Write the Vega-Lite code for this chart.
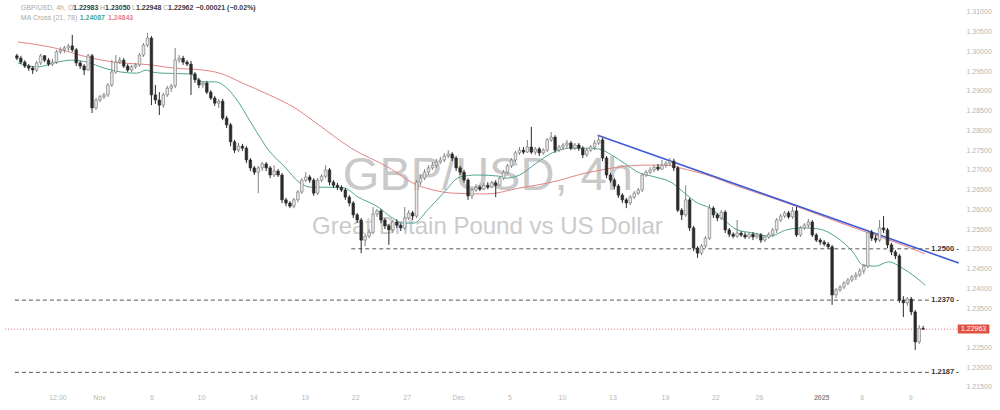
{
  "$schema": "https://vega.github.io/schema/vega-lite/v6.json",
  "width": 940,
  "height": 390,
  "padding": {"left": 0, "top": 0, "right": 0, "bottom": 0},
  "background": "#ffffff",
  "config": {
    "view": {"stroke": null},
    "axis": {"grid": false, "domain": false, "ticks": false, "labelColor": "#b3b3b3", "labelFontSize": 7, "labelFont": "Liberation Sans", "labelOverlap": false},
    "axisY": {"labelOverlap": false, "labelPadding": 26, "labelAlign": "left", "labelBaseline": "middle", "labelFlush": false, "labelColor": "#b5b5b5", "tickCount": 40}
  },
  "datasets": {
    "candles": [
      {"i":0,"o":1.2989,"h":1.2994,"l":1.2978,"c":1.2983},
      {"i":1,"o":1.2983,"h":1.2989,"l":1.2968,"c":1.2973},
      {"i":2,"o":1.2973,"h":1.2978,"l":1.2958,"c":1.2963},
      {"i":3,"o":1.2963,"h":1.2968,"l":1.2951,"c":1.2958},
      {"i":4,"o":1.2958,"h":1.2963,"l":1.2943,"c":1.2953},
      {"i":5,"o":1.2953,"h":1.2976,"l":1.2948,"c":1.2971},
      {"i":6,"o":1.2971,"h":1.2994,"l":1.2966,"c":1.2989},
      {"i":7,"o":1.2989,"h":1.2991,"l":1.2973,"c":1.2978},
      {"i":8,"o":1.2978,"h":1.2983,"l":1.2963,"c":1.2968},
      {"i":9,"o":1.2968,"h":1.2981,"l":1.2963,"c":1.2973},
      {"i":10,"o":1.2973,"h":1.3004,"l":1.2968,"c":1.2999},
      {"i":11,"o":1.2999,"h":1.3011,"l":1.2994,"c":1.3004},
      {"i":12,"o":1.3004,"h":1.3014,"l":1.2996,"c":1.3009},
      {"i":13,"o":1.3009,"h":1.3019,"l":1.3001,"c":1.3014},
      {"i":14,"o":1.3014,"h":1.3042,"l":1.2999,"c":1.3004},
      {"i":15,"o":1.3004,"h":1.3009,"l":1.2963,"c":1.2971},
      {"i":16,"o":1.2971,"h":1.2976,"l":1.2956,"c":1.2963},
      {"i":17,"o":1.2963,"h":1.2968,"l":1.2940,"c":1.2953},
      {"i":18,"o":1.2953,"h":1.2994,"l":1.2951,"c":1.2989},
      {"i":19,"o":1.2989,"h":1.2994,"l":1.2844,"c":1.2857},
      {"i":20,"o":1.2857,"h":1.2882,"l":1.2852,"c":1.2877},
      {"i":21,"o":1.2877,"h":1.2890,"l":1.2872,"c":1.2885},
      {"i":22,"o":1.2885,"h":1.2895,"l":1.2880,"c":1.2890},
      {"i":23,"o":1.2890,"h":1.2920,"l":1.2885,"c":1.2915},
      {"i":24,"o":1.2915,"h":1.2978,"l":1.2910,"c":1.2948},
      {"i":25,"o":1.2948,"h":1.2991,"l":1.2943,"c":1.2973},
      {"i":26,"o":1.2973,"h":1.2986,"l":1.2968,"c":1.2978},
      {"i":27,"o":1.2978,"h":1.2983,"l":1.2958,"c":1.2963},
      {"i":28,"o":1.2963,"h":1.2968,"l":1.2948,"c":1.2953},
      {"i":29,"o":1.2953,"h":1.2966,"l":1.2948,"c":1.2961},
      {"i":30,"o":1.2961,"h":1.2971,"l":1.2956,"c":1.2966},
      {"i":31,"o":1.2966,"h":1.2996,"l":1.2961,"c":1.2991},
      {"i":32,"o":1.2991,"h":1.3021,"l":1.2986,"c":1.3016},
      {"i":33,"o":1.3016,"h":1.3047,"l":1.3011,"c":1.3034},
      {"i":34,"o":1.3034,"h":1.3039,"l":1.2864,"c":1.2890},
      {"i":35,"o":1.2890,"h":1.2915,"l":1.2867,"c":1.2877},
      {"i":36,"o":1.2877,"h":1.2897,"l":1.2839,"c":1.2864},
      {"i":37,"o":1.2864,"h":1.2895,"l":1.2857,"c":1.2890},
      {"i":38,"o":1.2890,"h":1.2913,"l":1.2885,"c":1.2907},
      {"i":39,"o":1.2907,"h":1.2918,"l":1.2897,"c":1.2913},
      {"i":40,"o":1.2913,"h":1.3009,"l":1.2907,"c":1.2978},
      {"i":41,"o":1.2978,"h":1.2991,"l":1.2971,"c":1.2983},
      {"i":42,"o":1.2983,"h":1.2989,"l":1.2966,"c":1.2973},
      {"i":43,"o":1.2973,"h":1.2978,"l":1.2963,"c":1.2968},
      {"i":44,"o":1.2968,"h":1.2976,"l":1.2890,"c":1.2943},
      {"i":45,"o":1.2943,"h":1.2948,"l":1.2920,"c":1.2928},
      {"i":46,"o":1.2928,"h":1.2933,"l":1.2907,"c":1.2915},
      {"i":47,"o":1.2915,"h":1.2925,"l":1.2907,"c":1.2920},
      {"i":48,"o":1.2920,"h":1.2925,"l":1.2892,"c":1.2897},
      {"i":49,"o":1.2897,"h":1.2902,"l":1.2877,"c":1.2882},
      {"i":50,"o":1.2882,"h":1.2887,"l":1.2862,"c":1.2869},
      {"i":51,"o":1.2869,"h":1.2880,"l":1.2857,"c":1.2874},
      {"i":52,"o":1.2874,"h":1.2880,"l":1.2826,"c":1.2831},
      {"i":53,"o":1.2831,"h":1.2837,"l":1.2806,"c":1.2814},
      {"i":54,"o":1.2814,"h":1.2819,"l":1.2760,"c":1.2771},
      {"i":55,"o":1.2771,"h":1.2776,"l":1.2743,"c":1.2750},
      {"i":56,"o":1.2750,"h":1.2768,"l":1.2745,"c":1.2760},
      {"i":57,"o":1.2760,"h":1.2766,"l":1.2748,"c":1.2755},
      {"i":58,"o":1.2755,"h":1.2760,"l":1.2717,"c":1.2725},
      {"i":59,"o":1.2725,"h":1.2730,"l":1.2697,"c":1.2705},
      {"i":60,"o":1.2705,"h":1.2710,"l":1.2687,"c":1.2694},
      {"i":61,"o":1.2694,"h":1.2710,"l":1.2641,"c":1.2705},
      {"i":62,"o":1.2705,"h":1.2720,"l":1.2697,"c":1.2715},
      {"i":63,"o":1.2715,"h":1.2720,"l":1.2697,"c":1.2705},
      {"i":64,"o":1.2705,"h":1.2710,"l":1.2679,"c":1.2687},
      {"i":65,"o":1.2687,"h":1.2712,"l":1.2682,"c":1.2697},
      {"i":66,"o":1.2697,"h":1.2702,"l":1.2682,"c":1.2687},
      {"i":67,"o":1.2687,"h":1.2692,"l":1.2616,"c":1.2624},
      {"i":68,"o":1.2624,"h":1.2629,"l":1.2608,"c":1.2616},
      {"i":69,"o":1.2616,"h":1.2621,"l":1.2603,"c":1.2608},
      {"i":70,"o":1.2608,"h":1.2629,"l":1.2603,"c":1.2624},
      {"i":71,"o":1.2624,"h":1.2649,"l":1.2618,"c":1.2644},
      {"i":72,"o":1.2644,"h":1.2679,"l":1.2639,"c":1.2674},
      {"i":73,"o":1.2674,"h":1.2694,"l":1.2669,"c":1.2682},
      {"i":74,"o":1.2682,"h":1.2687,"l":1.2667,"c":1.2674},
      {"i":75,"o":1.2674,"h":1.2679,"l":1.2634,"c":1.2641},
      {"i":76,"o":1.2641,"h":1.2679,"l":1.2636,"c":1.2674},
      {"i":77,"o":1.2674,"h":1.2689,"l":1.2669,"c":1.2684},
      {"i":78,"o":1.2684,"h":1.2712,"l":1.2679,"c":1.2700},
      {"i":79,"o":1.2700,"h":1.2705,"l":1.2661,"c":1.2669},
      {"i":80,"o":1.2669,"h":1.2674,"l":1.2654,"c":1.2661},
      {"i":81,"o":1.2661,"h":1.2667,"l":1.2649,"c":1.2656},
      {"i":82,"o":1.2656,"h":1.2661,"l":1.2644,"c":1.2649},
      {"i":83,"o":1.2649,"h":1.2654,"l":1.2624,"c":1.2631},
      {"i":84,"o":1.2631,"h":1.2636,"l":1.2608,"c":1.2616},
      {"i":85,"o":1.2616,"h":1.2621,"l":1.2578,"c":1.2586},
      {"i":86,"o":1.2586,"h":1.2591,"l":1.2565,"c":1.2573},
      {"i":87,"o":1.2573,"h":1.2578,"l":1.2489,"c":1.2522},
      {"i":88,"o":1.2522,"h":1.2537,"l":1.2507,"c":1.2532},
      {"i":89,"o":1.2532,"h":1.2550,"l":1.2527,"c":1.2542},
      {"i":90,"o":1.2542,"h":1.2606,"l":1.2537,"c":1.2588},
      {"i":91,"o":1.2588,"h":1.2601,"l":1.2581,"c":1.2596},
      {"i":92,"o":1.2596,"h":1.2601,"l":1.2565,"c":1.2573},
      {"i":93,"o":1.2573,"h":1.2578,"l":1.2550,"c":1.2558},
      {"i":94,"o":1.2558,"h":1.2563,"l":1.2510,"c":1.2548},
      {"i":95,"o":1.2548,"h":1.2573,"l":1.2540,"c":1.2568},
      {"i":96,"o":1.2568,"h":1.2575,"l":1.2553,"c":1.2560},
      {"i":97,"o":1.2560,"h":1.2565,"l":1.2545,"c":1.2553},
      {"i":98,"o":1.2553,"h":1.2606,"l":1.2548,"c":1.2578},
      {"i":99,"o":1.2578,"h":1.2598,"l":1.2573,"c":1.2591},
      {"i":100,"o":1.2591,"h":1.2596,"l":1.2573,"c":1.2583},
      {"i":101,"o":1.2583,"h":1.2674,"l":1.2578,"c":1.2669},
      {"i":102,"o":1.2669,"h":1.2687,"l":1.2661,"c":1.2679},
      {"i":103,"o":1.2679,"h":1.2702,"l":1.2674,"c":1.2694},
      {"i":104,"o":1.2694,"h":1.2712,"l":1.2687,"c":1.2705},
      {"i":105,"o":1.2705,"h":1.2720,"l":1.2700,"c":1.2712},
      {"i":106,"o":1.2712,"h":1.2728,"l":1.2705,"c":1.2720},
      {"i":107,"o":1.2720,"h":1.2733,"l":1.2715,"c":1.2725},
      {"i":108,"o":1.2725,"h":1.2743,"l":1.2720,"c":1.2735},
      {"i":109,"o":1.2735,"h":1.2750,"l":1.2730,"c":1.2740},
      {"i":110,"o":1.2740,"h":1.2745,"l":1.2722,"c":1.2730},
      {"i":111,"o":1.2730,"h":1.2735,"l":1.2697,"c":1.2705},
      {"i":112,"o":1.2705,"h":1.2710,"l":1.2687,"c":1.2694},
      {"i":113,"o":1.2694,"h":1.2700,"l":1.2667,"c":1.2674},
      {"i":114,"o":1.2674,"h":1.2679,"l":1.2624,"c":1.2634},
      {"i":115,"o":1.2634,"h":1.2654,"l":1.2626,"c":1.2649},
      {"i":116,"o":1.2649,"h":1.2664,"l":1.2644,"c":1.2656},
      {"i":117,"o":1.2656,"h":1.2661,"l":1.2646,"c":1.2651},
      {"i":118,"o":1.2651,"h":1.2667,"l":1.2649,"c":1.2661},
      {"i":119,"o":1.2661,"h":1.2669,"l":1.2651,"c":1.2656},
      {"i":120,"o":1.2656,"h":1.2672,"l":1.2654,"c":1.2667},
      {"i":121,"o":1.2667,"h":1.2674,"l":1.2631,"c":1.2661},
      {"i":122,"o":1.2661,"h":1.2684,"l":1.2659,"c":1.2679},
      {"i":123,"o":1.2679,"h":1.2700,"l":1.2674,"c":1.2694},
      {"i":124,"o":1.2694,"h":1.2715,"l":1.2689,"c":1.2710},
      {"i":125,"o":1.2710,"h":1.2730,"l":1.2705,"c":1.2725},
      {"i":126,"o":1.2725,"h":1.2748,"l":1.2720,"c":1.2743},
      {"i":127,"o":1.2743,"h":1.2758,"l":1.2738,"c":1.2750},
      {"i":128,"o":1.2750,"h":1.2758,"l":1.2740,"c":1.2745},
      {"i":129,"o":1.2745,"h":1.2776,"l":1.2743,"c":1.2758},
      {"i":130,"o":1.2758,"h":1.2809,"l":1.2740,"c":1.2745},
      {"i":131,"o":1.2745,"h":1.2758,"l":1.2738,"c":1.2753},
      {"i":132,"o":1.2753,"h":1.2758,"l":1.2735,"c":1.2743},
      {"i":133,"o":1.2743,"h":1.2755,"l":1.2738,"c":1.2750},
      {"i":134,"o":1.2750,"h":1.2781,"l":1.2745,"c":1.2776},
      {"i":135,"o":1.2776,"h":1.2796,"l":1.2771,"c":1.2783},
      {"i":136,"o":1.2783,"h":1.2788,"l":1.2743,"c":1.2750},
      {"i":137,"o":1.2750,"h":1.2763,"l":1.2745,"c":1.2758},
      {"i":138,"o":1.2758,"h":1.2768,"l":1.2750,"c":1.2763},
      {"i":139,"o":1.2763,"h":1.2776,"l":1.2755,"c":1.2768},
      {"i":140,"o":1.2768,"h":1.2773,"l":1.2750,"c":1.2755},
      {"i":141,"o":1.2755,"h":1.2768,"l":1.2750,"c":1.2763},
      {"i":142,"o":1.2763,"h":1.2768,"l":1.2748,"c":1.2755},
      {"i":143,"o":1.2755,"h":1.2760,"l":1.2730,"c":1.2738},
      {"i":144,"o":1.2738,"h":1.2755,"l":1.2733,"c":1.2750},
      {"i":145,"o":1.2750,"h":1.2763,"l":1.2745,"c":1.2758},
      {"i":146,"o":1.2758,"h":1.2776,"l":1.2750,"c":1.2768},
      {"i":147,"o":1.2768,"h":1.2788,"l":1.2763,"c":1.2776},
      {"i":148,"o":1.2776,"h":1.2781,"l":1.2722,"c":1.2730},
      {"i":149,"o":1.2730,"h":1.2735,"l":1.2679,"c":1.2687},
      {"i":150,"o":1.2687,"h":1.2692,"l":1.2667,"c":1.2674},
      {"i":151,"o":1.2674,"h":1.2679,"l":1.2651,"c":1.2659},
      {"i":152,"o":1.2659,"h":1.2664,"l":1.2629,"c":1.2636},
      {"i":153,"o":1.2636,"h":1.2641,"l":1.2616,"c":1.2624},
      {"i":154,"o":1.2624,"h":1.2629,"l":1.2603,"c":1.2616},
      {"i":155,"o":1.2616,"h":1.2636,"l":1.2611,"c":1.2631},
      {"i":156,"o":1.2631,"h":1.2646,"l":1.2626,"c":1.2641},
      {"i":157,"o":1.2641,"h":1.2654,"l":1.2636,"c":1.2649},
      {"i":158,"o":1.2649,"h":1.2692,"l":1.2644,"c":1.2687},
      {"i":159,"o":1.2687,"h":1.2700,"l":1.2682,"c":1.2694},
      {"i":160,"o":1.2694,"h":1.2707,"l":1.2689,"c":1.2700},
      {"i":161,"o":1.2700,"h":1.2712,"l":1.2694,"c":1.2707},
      {"i":162,"o":1.2707,"h":1.2715,"l":1.2697,"c":1.2702},
      {"i":163,"o":1.2702,"h":1.2725,"l":1.2700,"c":1.2712},
      {"i":164,"o":1.2712,"h":1.2722,"l":1.2705,"c":1.2717},
      {"i":165,"o":1.2717,"h":1.2730,"l":1.2710,"c":1.2722},
      {"i":166,"o":1.2722,"h":1.2728,"l":1.2697,"c":1.2705},
      {"i":167,"o":1.2705,"h":1.2710,"l":1.2593,"c":1.2598},
      {"i":168,"o":1.2598,"h":1.2603,"l":1.2573,"c":1.2586},
      {"i":169,"o":1.2586,"h":1.2661,"l":1.2581,"c":1.2624},
      {"i":170,"o":1.2624,"h":1.2629,"l":1.2545,"c":1.2553},
      {"i":171,"o":1.2553,"h":1.2558,"l":1.2494,"c":1.2502},
      {"i":172,"o":1.2502,"h":1.2507,"l":1.2477,"c":1.2489},
      {"i":173,"o":1.2489,"h":1.2512,"l":1.2484,"c":1.2507},
      {"i":174,"o":1.2507,"h":1.2532,"l":1.2502,"c":1.2527},
      {"i":175,"o":1.2527,"h":1.2613,"l":1.2522,"c":1.2603},
      {"i":176,"o":1.2603,"h":1.2608,"l":1.2578,"c":1.2586},
      {"i":177,"o":1.2586,"h":1.2591,"l":1.2570,"c":1.2578},
      {"i":178,"o":1.2578,"h":1.2598,"l":1.2573,"c":1.2593},
      {"i":179,"o":1.2593,"h":1.2598,"l":1.2540,"c":1.2548},
      {"i":180,"o":1.2548,"h":1.2553,"l":1.2530,"c":1.2537},
      {"i":181,"o":1.2537,"h":1.2542,"l":1.2527,"c":1.2532},
      {"i":182,"o":1.2532,"h":1.2573,"l":1.2527,"c":1.2540},
      {"i":183,"o":1.2540,"h":1.2545,"l":1.2530,"c":1.2535},
      {"i":184,"o":1.2535,"h":1.2542,"l":1.2525,"c":1.2530},
      {"i":185,"o":1.2530,"h":1.2542,"l":1.2525,"c":1.2537},
      {"i":186,"o":1.2537,"h":1.2542,"l":1.2522,"c":1.2530},
      {"i":187,"o":1.2530,"h":1.2540,"l":1.2525,"c":1.2535},
      {"i":188,"o":1.2535,"h":1.2540,"l":1.2515,"c":1.2522},
      {"i":189,"o":1.2522,"h":1.2535,"l":1.2517,"c":1.2530},
      {"i":190,"o":1.2530,"h":1.2542,"l":1.2525,"c":1.2537},
      {"i":191,"o":1.2537,"h":1.2553,"l":1.2530,"c":1.2548},
      {"i":192,"o":1.2548,"h":1.2578,"l":1.2540,"c":1.2573},
      {"i":193,"o":1.2573,"h":1.2588,"l":1.2568,"c":1.2583},
      {"i":194,"o":1.2583,"h":1.2596,"l":1.2578,"c":1.2591},
      {"i":195,"o":1.2591,"h":1.2596,"l":1.2576,"c":1.2581},
      {"i":196,"o":1.2581,"h":1.2606,"l":1.2576,"c":1.2596},
      {"i":197,"o":1.2596,"h":1.2606,"l":1.2530,"c":1.2535},
      {"i":198,"o":1.2535,"h":1.2558,"l":1.2530,"c":1.2553},
      {"i":199,"o":1.2553,"h":1.2565,"l":1.2548,"c":1.2560},
      {"i":200,"o":1.2560,"h":1.2576,"l":1.2553,"c":1.2568},
      {"i":201,"o":1.2568,"h":1.2573,"l":1.2530,"c":1.2535},
      {"i":202,"o":1.2535,"h":1.2540,"l":1.2517,"c":1.2522},
      {"i":203,"o":1.2522,"h":1.2527,"l":1.2510,"c":1.2517},
      {"i":204,"o":1.2517,"h":1.2522,"l":1.2507,"c":1.2512},
      {"i":205,"o":1.2512,"h":1.2517,"l":1.2500,"c":1.2505},
      {"i":206,"o":1.2505,"h":1.2510,"l":1.2358,"c":1.2383},
      {"i":207,"o":1.2383,"h":1.2401,"l":1.2375,"c":1.2396},
      {"i":208,"o":1.2396,"h":1.2408,"l":1.2391,"c":1.2403},
      {"i":209,"o":1.2403,"h":1.2418,"l":1.2398,"c":1.2413},
      {"i":210,"o":1.2413,"h":1.2426,"l":1.2408,"c":1.2421},
      {"i":211,"o":1.2421,"h":1.2434,"l":1.2416,"c":1.2429},
      {"i":212,"o":1.2429,"h":1.2441,"l":1.2421,"c":1.2434},
      {"i":213,"o":1.2434,"h":1.2451,"l":1.2429,"c":1.2444},
      {"i":214,"o":1.2444,"h":1.2462,"l":1.2436,"c":1.2456},
      {"i":215,"o":1.2456,"h":1.2548,"l":1.2451,"c":1.2542},
      {"i":216,"o":1.2542,"h":1.2548,"l":1.2520,"c":1.2527},
      {"i":217,"o":1.2527,"h":1.2535,"l":1.2515,"c":1.2522},
      {"i":218,"o":1.2522,"h":1.2573,"l":1.2517,"c":1.2553},
      {"i":219,"o":1.2553,"h":1.2583,"l":1.2540,"c":1.2548},
      {"i":220,"o":1.2548,"h":1.2553,"l":1.2502,"c":1.2510},
      {"i":221,"o":1.2510,"h":1.2515,"l":1.2484,"c":1.2492},
      {"i":222,"o":1.2492,"h":1.2497,"l":1.2474,"c":1.2482},
      {"i":223,"o":1.2482,"h":1.2487,"l":1.2363,"c":1.2370},
      {"i":224,"o":1.2370,"h":1.2380,"l":1.2327,"c":1.2363},
      {"i":225,"o":1.2363,"h":1.2378,"l":1.2355,"c":1.2373},
      {"i":226,"o":1.2373,"h":1.2378,"l":1.2332,"c":1.2340},
      {"i":227,"o":1.2340,"h":1.2345,"l":1.2244,"c":1.2264},
      {"i":228,"o":1.2264,"h":1.2307,"l":1.2259,"c":1.2299},
      {"i":229,"o":1.22983,"h":1.2305,"l":1.22948,"c":1.22962}
    ],
    "ma": [
      {"i":0.25,"v":1.3024,"s":"ma78"},{"i":9.5,"v":1.3009,"s":"ma78"},{"i":17.75,"v":1.2986,"s":"ma78"},{"i":24.5,"v":1.2973,"s":"ma78"},
      {"i":33.75,"v":1.2966,"s":"ma78"},{"i":39.5,"v":1.2958,"s":"ma78"},{"i":47,"v":1.2953,"s":"ma78"},{"i":51.25,"v":1.2945,"s":"ma78"},
      {"i":57,"v":1.2920,"s":"ma78"},{"i":63.75,"v":1.2890,"s":"ma78"},{"i":70.25,"v":1.2857,"s":"ma78"},{"i":76.25,"v":1.2814,"s":"ma78"},
      {"i":84.5,"v":1.2755,"s":"ma78"},{"i":93.75,"v":1.2707,"s":"ma78"},{"i":101.25,"v":1.2661,"s":"ma78"},{"i":105.25,"v":1.2649,"s":"ma78"},
      {"i":110.25,"v":1.2641,"s":"ma78"},{"i":118.75,"v":1.2639,"s":"ma78"},{"i":127,"v":1.2654,"s":"ma78"},{"i":135.25,"v":1.2669,"s":"ma78"},
      {"i":143.75,"v":1.2692,"s":"ma78"},{"i":147.75,"v":1.2700,"s":"ma78"},{"i":152,"v":1.2707,"s":"ma78"},{"i":158.25,"v":1.2712,"s":"ma78"},
      {"i":163.75,"v":1.2712,"s":"ma78"},{"i":169.5,"v":1.2700,"s":"ma78"},{"i":173.75,"v":1.2689,"s":"ma78"},{"i":182,"v":1.2659,"s":"ma78"},
      {"i":190.25,"v":1.2631,"s":"ma78"},{"i":198.75,"v":1.2601,"s":"ma78"},{"i":207,"v":1.2570,"s":"ma78"},{"i":215.25,"v":1.2540,"s":"ma78"},
      {"i":223.75,"v":1.2510,"s":"ma78"},{"i":229.5,"v":1.2487,"s":"ma78"},
      {"i":0.25,"v":1.2971,"s":"ma21"},{"i":5.25,"v":1.2961,"s":"ma21"},{"i":9.5,"v":1.2971,"s":"ma21"},{"i":13.75,"v":1.2978,"s":"ma21"},
      {"i":17.75,"v":1.2973,"s":"ma21"},{"i":22,"v":1.2958,"s":"ma21"},{"i":26.25,"v":1.2948,"s":"ma21"},{"i":30.25,"v":1.2945,"s":"ma21"},
      {"i":32.75,"v":1.2953,"s":"ma21"},{"i":34,"v":1.2948,"s":"ma21"},{"i":37,"v":1.2945,"s":"ma21"},{"i":43.75,"v":1.2943,"s":"ma21"},
      {"i":47,"v":1.2923,"s":"ma21"},{"i":50.25,"v":1.2923,"s":"ma21"},{"i":52.75,"v":1.2910,"s":"ma21"},{"i":55.25,"v":1.2882,"s":"ma21"},
      {"i":59.5,"v":1.2814,"s":"ma21"},{"i":63.75,"v":1.2748,"s":"ma21"},{"i":67.75,"v":1.2707,"s":"ma21"},{"i":71.25,"v":1.2669,"s":"ma21"},
      {"i":74.5,"v":1.2656,"s":"ma21"},{"i":80.25,"v":1.2656,"s":"ma21"},{"i":82.75,"v":1.2654,"s":"ma21"},{"i":86.25,"v":1.2631,"s":"ma21"},
      {"i":91.25,"v":1.2606,"s":"ma21"},{"i":94.5,"v":1.2581,"s":"ma21"},{"i":97.75,"v":1.2565,"s":"ma21"},{"i":100.25,"v":1.2565,"s":"ma21"},
      {"i":103.75,"v":1.2598,"s":"ma21"},{"i":107.75,"v":1.2641,"s":"ma21"},{"i":112,"v":1.2682,"s":"ma21"},{"i":116.25,"v":1.2687,"s":"ma21"},
      {"i":122,"v":1.2684,"s":"ma21"},{"i":123.75,"v":1.2679,"s":"ma21"},{"i":127,"v":1.2687,"s":"ma21"},{"i":131.25,"v":1.2717,"s":"ma21"},
      {"i":135.25,"v":1.2743,"s":"ma21"},{"i":139.5,"v":1.2755,"s":"ma21"},{"i":143.75,"v":1.2755,"s":"ma21"},{"i":147,"v":1.2753,"s":"ma21"},
      {"i":150.25,"v":1.2738,"s":"ma21"},{"i":153.75,"v":1.2715,"s":"ma21"},{"i":157,"v":1.2694,"s":"ma21"},{"i":161.25,"v":1.2682,"s":"ma21"},
      {"i":165.25,"v":1.2669,"s":"ma21"},{"i":168.75,"v":1.2641,"s":"ma21"},{"i":172,"v":1.2616,"s":"ma21"},{"i":175.25,"v":1.2603,"s":"ma21"},
      {"i":178.75,"v":1.2573,"s":"ma21"},{"i":182,"v":1.2548,"s":"ma21"},{"i":186.25,"v":1.2540,"s":"ma21"},{"i":190.25,"v":1.2532,"s":"ma21"},
      {"i":194.5,"v":1.2548,"s":"ma21"},{"i":198.75,"v":1.2553,"s":"ma21"},{"i":202.75,"v":1.2550,"s":"ma21"},{"i":207,"v":1.2530,"s":"ma21"},
      {"i":211.25,"v":1.2492,"s":"ma21"},{"i":213.75,"v":1.2459,"s":"ma21"},{"i":217,"v":1.2456,"s":"ma21"},{"i":220.25,"v":1.2467,"s":"ma21"},
      {"i":223.75,"v":1.2451,"s":"ma21"},{"i":227,"v":1.2429,"s":"ma21"},{"i":229.5,"v":1.2408,"s":"ma21"}
    ]
  },
  "encoding": {
    "x": {
      "field": "i", "type": "quantitative", "title": null,
      "scale": {"domain": [-3, 232], "nice": false, "zero": false},
      "axis": {
        "values": [10.25, 20.75, 34, 46.5, 59.75, 72.75, 85.5, 98.5, 111.5, 124.5, 137.75, 150.5, 163.75, 176.5, 187.5, 203.25, 213.5, 225.75],
        "labelExpr": "['12:00','Nov','6','10','14','19','22','27','Dec','5','10','13','19','22','26','2025','6','9'][indexof([10.25,20.75,34,46.5,59.75,72.75,85.5,98.5,111.5,124.5,137.75,150.5,163.75,176.5,187.5,203.25,213.5,225.75], datum.value)]",
        "labelPadding": 3, "labelFlush": false, "labelOverlap": false, "tickCount": 40,
        "labelColor": {"condition": {"test": "datum.value == 203.25", "value": "#8a8a8a"}, "value": "#b8b8b8"},
        "labelFontWeight": {"condition": {"test": "datum.value == 203.25", "value": "bold"}, "value": "normal"}
      }
    }
  },
  "layer": [
    {
      "data": {"values": [
        {"i": 119, "p": 1.2649, "t": "GBP/USD, 4h"}
      ]},
      "mark": {"type": "text", "font": "Liberation Sans", "fontSize": 47, "color": "#c9c9c9", "align": "center", "baseline": "alphabetic"},
      "encoding": {
        "y": {"field": "p", "type": "quantitative", "title": null, "scale": {"domain": [1.21423, 1.31304], "nice": false, "zero": false}},
        "text": {"field": "t"}
      }
    },
    {
      "data": {"values": [
        {"i": 118.9, "p": 1.2537, "t": "Great Britain Pound vs US Dollar"}
      ]},
      "mark": {"type": "text", "font": "Liberation Sans", "fontSize": 24, "color": "#cbcbcb", "align": "center", "baseline": "alphabetic"},
      "encoding": {
        "y": {"field": "p", "type": "quantitative", "title": null, "scale": {"domain": [1.21423, 1.31304], "nice": false, "zero": false}},
        "text": {"field": "t"}
      }
    },
    {
      "data": {"values": [{"i": -3, "i2": 237.75, "p": 1.22963}]},
      "mark": {"type": "rule", "color": "#e57373", "strokeWidth": 1, "strokeDash": [1, 2]},
      "encoding": {
        "x2": {"field": "i2"},
        "y": {"field": "p", "type": "quantitative", "title": null, "scale": {"domain": [1.21423, 1.31304], "nice": false, "zero": false}}
      }
    },
    {
      "data": {"values": [
        {"i": 84.5, "i2": 230.5, "p": 1.25},
        {"i": -0.5, "i2": 230.5, "p": 1.237},
        {"i": -0.5, "i2": 230.5, "p": 1.2187}
      ]},
      "mark": {"type": "rule", "color": "#555555", "strokeWidth": 1, "strokeDash": [4, 3]},
      "encoding": {
        "x2": {"field": "i2"},
        "y": {"field": "p", "type": "quantitative", "title": null, "scale": {"domain": [1.21423, 1.31304], "nice": false, "zero": false}}
      }
    },
    {
      "data": {"name": "ma"},
      "mark": {"type": "line", "strokeWidth": 1, "interpolate": "monotone"},
      "encoding": {
        "y": {"field": "v", "type": "quantitative", "title": null, "scale": {"domain": [1.21423, 1.31304], "nice": false, "zero": false}},
        "color": {"field": "s", "type": "nominal", "legend": null, "scale": {"domain": ["lab", "val", "ma21", "ma78"], "range": ["#a8a8a8", "#3a3a3a", "#4fa592", "#e48483"]}}
      }
    },
    {
      "data": {"values": [{"i": 146.75, "p": 1.2788}, {"i": 238, "p": 1.2464}]},
      "mark": {"type": "line", "color": "#3f5bd6", "strokeWidth": 1.6},
      "encoding": {
        "y": {"field": "p", "type": "quantitative", "title": null, "scale": {"domain": [1.21423, 1.31304], "nice": false, "zero": false}}
      }
    },
    {
      "data": {"name": "candles"},
      "mark": {"type": "rule", "strokeWidth": 1},
      "encoding": {
        "y": {
          "field": "l", "type": "quantitative", "title": null,
          "scale": {"domain": [1.21423, 1.31304], "nice": false, "zero": false},
          "axis": {
            "orient": "right",
            "values": [1.215, 1.22, 1.225, 1.235, 1.24, 1.245, 1.25, 1.255, 1.26, 1.265, 1.27, 1.275, 1.28, 1.285, 1.29, 1.295, 1.3, 1.305, 1.31],
            "tickCount": 40,
            "format": ".5f", "labelPadding": 26, "labelAlign": "left", "labelBaseline": "middle",
            "labelFlush": false, "labelOverlap": false, "labelColor": "#b5b5b5"
          }
        },
        "y2": {"field": "h"},
        "color": {"condition": {"test": "datum.c >= datum.o", "value": "#808080"}, "value": "#2b2b2b"}
      }
    },
    {
      "data": {"name": "candles"},
      "mark": {"type": "bar", "width": 2.6, "strokeWidth": 0.6},
      "encoding": {
        "y": {"field": "o", "type": "quantitative", "title": null, "scale": {"domain": [1.21423, 1.31304], "nice": false, "zero": false}},
        "y2": {"field": "c"},
        "fill": {"condition": {"test": "datum.c >= datum.o", "value": "#e8e8e8"}, "value": "#2b2b2b"},
        "stroke": {"condition": {"test": "datum.c >= datum.o", "value": "#6e6e6e"}, "value": "#2b2b2b"}
      }
    },
    {
      "data": {"values": [
        {"i": 238, "p": 1.25, "t": "1.2500 -"},
        {"i": 238, "p": 1.237, "t": "1.2370 -"},
        {"i": 238, "p": 1.2187, "t": "1.2187 -"}
      ]},
      "mark": {"type": "text", "font": "Liberation Sans", "fontSize": 7.5, "fontWeight": "bold", "color": "#333333", "align": "right", "baseline": "middle"},
      "encoding": {
        "y": {"field": "p", "type": "quantitative", "title": null, "scale": {"domain": [1.21423, 1.31304], "nice": false, "zero": false}},
        "text": {"field": "t"}
      }
    },
    {
      "data": {"values": [{"i": 237.75, "i2": 245.75, "p": 1.23083, "p2": 1.22854}]},
      "mark": {"type": "rect", "color": "#e0523f"},
      "encoding": {
        "x2": {"field": "i2"},
        "y": {"field": "p", "type": "quantitative", "title": null, "scale": {"domain": [1.21423, 1.31304], "nice": false, "zero": false}},
        "y2": {"field": "p2"}
      }
    },
    {
      "data": {"values": [{"i": 241.75, "p": 1.22963, "t": "1.22963"}]},
      "mark": {"type": "text", "font": "Liberation Sans", "fontSize": 7, "color": "#ffffff", "align": "center", "baseline": "middle"},
      "encoding": {
        "y": {"field": "p", "type": "quantitative", "title": null, "scale": {"domain": [1.21423, 1.31304], "nice": false, "zero": false}},
        "text": {"field": "t"}
      }
    },
    {
      "data": {"values": [
        {"i": 1, "p": 1.31101, "t": "GBP/USD, 4h,", "r": "lab"},
        {"i": 12.9, "p": 1.31101, "t": "O", "r": "lab"},
        {"i": 21, "p": 1.31101, "t": "H", "r": "lab"},
        {"i": 29.1, "p": 1.31101, "t": "L", "r": "lab"},
        {"i": 36.9, "p": 1.31101, "t": "C", "r": "lab"},
        {"i": 1, "p": 1.30848, "t": "MA Cross (21, 78)", "r": "lab"}
      ]},
      "mark": {"type": "text", "font": "Liberation Sans", "fontSize": 7, "align": "left", "baseline": "middle"},
      "encoding": {
        "y": {"field": "p", "type": "quantitative", "title": null, "scale": {"domain": [1.21423, 1.31304], "nice": false, "zero": false}},
        "text": {"field": "t"},
        "color": {"field": "r", "type": "nominal", "legend": null, "scale": {"domain": ["lab", "val", "ma21", "ma78"], "range": ["#a8a8a8", "#3a3a3a", "#4fa592", "#e48483"]}}
      }
    },
    {
      "data": {"values": [
        {"i": 14.2, "p": 1.31101, "t": "1.22983", "r": "val"},
        {"i": 22.3, "p": 1.31101, "t": "1.23050", "r": "val"},
        {"i": 30.1, "p": 1.31101, "t": "1.22948", "r": "val"},
        {"i": 38.2, "p": 1.31101, "t": "1.22962", "r": "val"},
        {"i": 45.2, "p": 1.31101, "t": "−0.00021 (−0.02%)", "r": "val"},
        {"i": 15.875, "p": 1.30848, "t": "1.24087", "r": "ma21"},
        {"i": 23, "p": 1.30848, "t": "1.24843", "r": "ma78"}
      ]},
      "mark": {"type": "text", "font": "Liberation Sans", "fontSize": 7, "fontWeight": "bold", "align": "left", "baseline": "middle"},
      "encoding": {
        "y": {"field": "p", "type": "quantitative", "title": null, "scale": {"domain": [1.21423, 1.31304], "nice": false, "zero": false}},
        "text": {"field": "t"},
        "color": {"field": "r", "type": "nominal", "legend": null, "scale": {"domain": ["lab", "val", "ma21", "ma78"], "range": ["#a8a8a8", "#3a3a3a", "#4fa592", "#e48483"]}}
      }
    }
  ]
}
